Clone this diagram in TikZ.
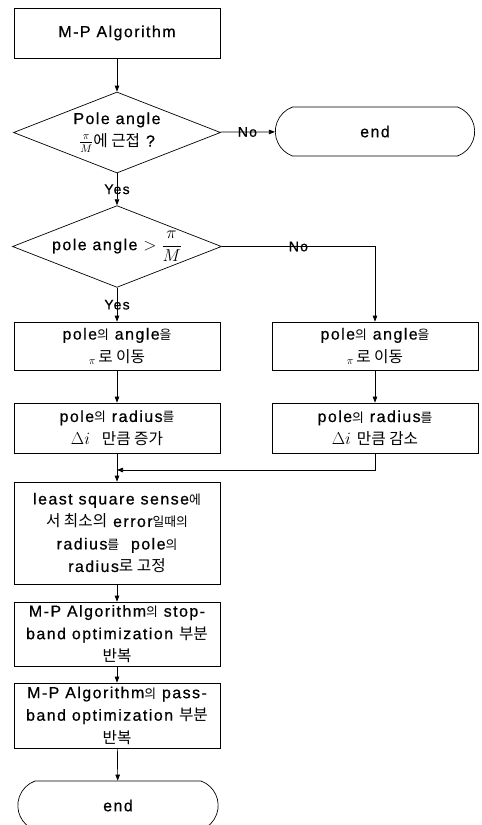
\documentclass[tikz,border=0pt]{standalone}
\usepackage{fontspec}
\setmainfont{Liberation Sans}[LetterSpace=9,FakeBold=0.6]
\newfontfamily\kr{Noto Sans CJK KR}[Scale=0.98]
\newfontfamily\krp{Noto Sans CJK KR}[Scale=0.8]
\newcommand{\K}[1]{{\kr #1}}
\newcommand{\Kp}[1]{{\krp #1}}
\usetikzlibrary{shapes.geometric,shapes.misc,arrows.meta}
\tikzset{
  every node/.style={font=\fontsize{16}{22.5}\selectfont},
  stepbox/.style={draw, line width=0.7pt, minimum width=206pt, align=center, inner sep=2pt},
  decision/.style={draw, line width=0.7pt, shape=diamond, aspect=2.556, minimum width=207pt, minimum height=81pt, inner sep=0pt, align=center},
  term/.style={draw, line width=0.7pt, shape=rounded rectangle, rounded rectangle arc length=140, minimum width=206pt, minimum height=49pt, align=center},
  arr/.style={line width=0.7pt, -{Triangle[length=6pt,width=4.5pt]}},
  lbl/.style={font=\fontsize{14}{14}\selectfont, inner sep=1pt}
}
\begin{document}
\begin{tikzpicture}[x=1pt,y=-1pt]
\clip (0,0) rectangle (482,825);
\node[stepbox, minimum height=50pt] (b1) at (117,33) {M-P Algorithm};
\node[decision] (d1) at (117,132.5) {Pole angle\\$\frac{\pi}{M}$\K{에 근접} ?};
\node[term] (e1) at (375,131.5) {end};
\node[decision] (d2) at (117,246.5) {pole angle $>{\displaystyle\frac{\pi}{M}}$};
\node[stepbox, minimum height=48pt] (b2L) at (117,346) {pole\Kp{의} angle\Kp{을}\\\raisebox{-2pt}{$\scriptstyle\pi$}\,\K{로 이동}};
\node[stepbox, minimum height=48pt] (b2R) at (375,346) {pole\Kp{의} angle\Kp{을}\\\raisebox{-2pt}{$\scriptstyle\pi$}\,\K{로 이동}};
\node[stepbox, minimum height=50pt] (b3L) at (117,428) {pole\Kp{의} radius\Kp{를}\\$\Delta i$\ \ \K{만큼 증가}};
\node[stepbox, minimum height=50pt] (b3R) at (375,428) {pole\Kp{의} radius\Kp{를}\\$\Delta i$\ \K{만큼 감소}};
\node[stepbox, minimum height=102pt] (b4) at (117,533) {least square sense\Kp{에}\\\K{서 최소의} error\Kp{일때의}\\radius\Kp{를}\ \ pole\Kp{의}\\radius\K{로 고정}};
\node[stepbox, minimum height=64pt] (b5) at (117,634) {M-P Algorithm\Kp{의} stop-\\band optimization \K{부분}\\\K{반복}};
\node[stepbox, minimum height=65pt] (b6) at (117,715.5) {M-P Algorithm\Kp{의} pass-\\band optimization \K{부분}\\\K{반복}};
\node[term, minimum width=207pt] (e2) at (118,805.5) {end};
\coordinate (m) at (117,470);
\draw[arr] (b1) -- (d1);
\draw[arr] (d1) -- node[lbl]{No} (e1);
\draw[arr] (d1) -- node[lbl]{Yes} (d2);
\draw[arr] (d2.east) -- node[lbl]{No} (d2.east -| b2R.north) -- (b2R.north);
\draw[arr] (d2) -- node[lbl]{Yes} (b2L);
\draw[arr] (b2L) -- (b3L);
\draw[arr] (b2R) -- (b3R);
\draw[arr] (b3R.south) |- (m);
\draw[arr] (b3L) -- (b4);
\draw[arr] (b4) -- (b5);
\draw[arr] (b5) -- (b6);
\draw[arr] (b6) -- (e2);
\end{tikzpicture}
\end{document}
